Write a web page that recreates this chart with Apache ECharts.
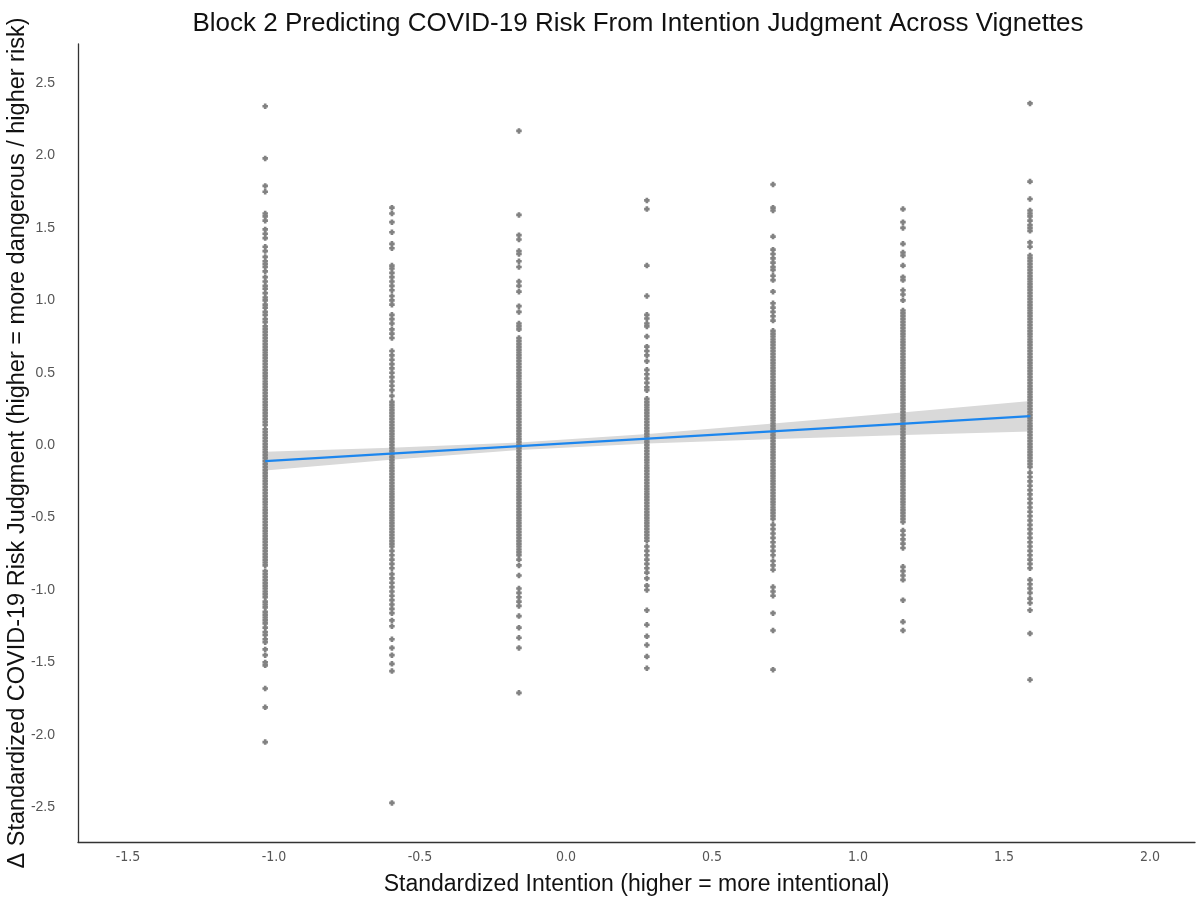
<!DOCTYPE html>
<html>
<head>
<meta charset="utf-8">
<script src="https://cdn.jsdelivr.net/npm/echarts@6/dist/echarts.min.js"></script>
<style>
html,body{margin:0;padding:0;background:#fff;}
#chart{width:1196px;height:897px;}
</style>
</head>
<body>
<div id="chart"></div>
<script>
// Vignette positions on standardized intention axis
var columnX = [-1.03, -0.596, -0.161, 0.277, 0.709, 1.154, 1.589];

// Δ standardized COVID-19 risk values per column
var col1 = [2.34,1.98,1.79,1.75,1.60,1.58,1.55,1.49,1.46,1.43,1.37,1.34,1.30,1.27,1.25,1.23,1.20,1.16,1.13,1.10,1.08,1.05,1.02,1.00,0.97,0.95,0.92,0.90,0.87,0.85,0.82,
0.80,0.78,0.76,0.74,0.72,0.70,0.68,0.66,0.64,0.62,0.60,0.58,0.56,0.54,0.52,0.50,0.48,0.46,0.44,0.42,0.40,0.38,0.36,0.34,0.32,0.30,0.28,0.26,0.24,0.22,0.20,0.18,0.16,0.14,0.11,0.09,0.07,0.05,0.03,0.01,
-0.01,-0.03,-0.05,-0.07,-0.09,-0.11,-0.13,-0.15,-0.17,-0.19,-0.21,-0.23,-0.25,-0.27,-0.29,-0.31,-0.33,-0.35,-0.37,-0.39,-0.41,-0.43,-0.45,-0.47,-0.49,-0.51,-0.53,-0.55,-0.57,-0.59,-0.61,-0.63,-0.65,-0.67,-0.69,-0.71,-0.73,-0.75,-0.77,-0.79,-0.81,-0.83,
-0.87,-0.89,-0.91,-0.93,-0.95,-0.97,-0.99,-1.01,-1.03,-1.05,-1.08,-1.10,-1.12,-1.15,-1.17,-1.19,-1.21,-1.23,-1.26,-1.29,-1.31,-1.34,-1.36,-1.41,-1.45,-1.50,-1.52,-1.68,-1.81,-2.05];

var col2 = [1.64,1.60,1.54,1.47,1.39,1.36,1.24,1.22,1.19,1.16,1.13,1.10,1.07,1.03,1.00,0.97,0.90,0.87,0.84,0.80,0.77,0.74,0.65,0.62,0.59,0.56,0.53,0.50,0.47,0.44,0.41,0.38,0.34,
0.30,0.28,0.26,0.24,0.22,0.20,0.18,0.16,0.14,0.12,0.10,0.08,0.06,0.04,0.02,0.00,-0.02,-0.04,-0.06,-0.08,-0.10,-0.12,-0.14,-0.16,-0.18,-0.20,-0.22,-0.24,-0.26,-0.28,-0.30,-0.32,-0.34,-0.36,-0.38,-0.40,-0.42,-0.44,-0.46,-0.48,-0.50,-0.52,-0.54,-0.56,-0.58,-0.60,-0.62,-0.64,-0.66,-0.68,-0.70,
-0.73,-0.76,-0.79,-0.82,-0.85,-0.89,-0.92,-0.95,-0.98,-1.01,-1.04,-1.07,-1.10,-1.13,-1.16,-1.21,-1.25,-1.34,-1.40,-1.45,-1.51,-1.56,-2.47];

var col3 = [2.17,1.59,1.45,1.42,1.34,1.32,1.27,1.23,1.13,1.10,1.06,0.96,0.92,0.84,0.82,0.80,
0.74,0.72,0.70,0.68,0.66,0.64,0.62,0.60,0.58,0.56,0.54,0.52,0.50,0.48,0.46,0.44,0.42,0.40,0.38,0.36,0.34,0.32,0.30,0.28,0.26,0.24,0.22,0.20,0.18,0.16,0.14,0.12,0.10,0.08,0.06,0.04,0.02,0.00,
-0.02,-0.04,-0.06,-0.08,-0.10,-0.12,-0.14,-0.16,-0.18,-0.20,-0.22,-0.24,-0.26,-0.28,-0.30,-0.32,-0.34,-0.36,-0.38,-0.40,-0.42,-0.44,-0.46,-0.48,-0.50,-0.52,-0.54,-0.56,-0.58,-0.60,-0.62,-0.64,-0.66,-0.68,-0.70,-0.72,-0.74,-0.76,
-0.79,-0.83,-0.90,-0.99,-1.02,-1.05,-1.08,-1.11,-1.18,-1.26,-1.33,-1.40,-1.71];

var col4 = [1.69,1.63,1.24,1.03,0.90,0.875,0.84,0.82,0.75,0.68,0.65,0.62,0.58,0.52,0.49,0.46,0.43,0.40,0.38,
0.32,0.30,0.28,0.26,0.24,0.22,0.20,0.18,0.16,0.14,0.12,0.10,0.08,0.06,0.04,0.02,0.00,-0.02,-0.04,-0.06,-0.08,-0.10,-0.12,-0.14,-0.16,-0.18,-0.20,-0.22,-0.24,-0.26,-0.28,-0.30,-0.32,-0.34,-0.36,-0.38,-0.40,-0.42,-0.44,-0.46,-0.48,-0.50,-0.52,-0.54,-0.56,-0.58,-0.60,-0.62,-0.64,-0.66,
-0.70,-0.73,-0.76,-0.79,-0.82,-0.85,-0.88,-0.92,-0.97,-1.00,-1.14,-1.24,-1.32,-1.38,-1.46,-1.54];

var col5 = [1.80,1.64,1.62,1.44,1.35,1.32,1.29,1.26,1.23,1.21,1.17,1.14,1.06,0.98,0.95,0.92,0.89,0.86,
0.79,0.77,0.75,0.73,0.71,0.69,0.67,0.65,0.63,0.61,0.59,0.57,0.55,0.53,0.51,0.49,0.47,0.45,0.43,0.41,0.39,0.37,0.35,0.33,0.31,0.29,0.27,0.25,0.23,0.21,0.19,0.17,0.15,0.13,0.11,0.09,0.07,0.05,0.03,0.01,
-0.01,-0.03,-0.05,-0.07,-0.09,-0.11,-0.13,-0.15,-0.17,-0.19,-0.21,-0.23,-0.25,-0.27,-0.29,-0.31,-0.33,-0.35,-0.37,-0.39,-0.41,-0.43,-0.45,-0.47,-0.49,-0.51,
-0.55,-0.58,-0.61,-0.64,-0.67,-0.70,-0.73,-0.76,-0.80,-0.83,-0.86,-0.98,-1.01,-1.04,-1.16,-1.28,-1.55];

var col6 = [1.63,1.54,1.50,1.39,1.33,1.31,1.24,1.16,1.14,1.07,1.04,1.00,
0.93,0.91,0.89,0.87,0.85,0.83,0.81,0.79,0.77,0.75,0.73,0.71,0.69,0.67,0.65,0.63,0.61,0.59,0.57,0.55,0.53,0.51,0.49,0.47,0.45,0.43,0.41,0.39,0.37,0.35,0.33,0.31,0.29,0.27,0.25,0.23,0.21,0.19,0.17,0.15,0.13,0.11,0.09,0.07,0.05,0.03,0.01,
-0.01,-0.03,-0.05,-0.07,-0.09,-0.11,-0.13,-0.15,-0.17,-0.19,-0.21,-0.23,-0.25,-0.27,-0.29,-0.31,-0.33,-0.35,-0.37,-0.39,-0.41,-0.43,-0.45,-0.47,-0.49,-0.51,-0.53,
-0.59,-0.62,-0.65,-0.68,-0.71,-0.84,-0.87,-0.90,-0.93,-1.07,-1.22,-1.28];

var col7 = [2.36,1.82,1.70,1.62,1.60,1.58,1.55,1.52,1.50,1.48,1.40,1.37,
1.31,1.29,1.27,1.25,1.23,1.21,1.19,1.17,1.15,1.13,1.11,1.09,1.07,1.05,1.03,1.01,0.99,0.97,0.95,0.93,0.91,0.89,0.87,0.85,0.83,0.81,0.79,0.77,0.75,0.73,0.71,0.69,0.67,0.65,0.63,0.61,0.59,0.57,0.55,0.53,0.51,0.49,0.47,0.45,0.43,0.41,0.39,0.37,0.35,0.33,0.31,0.29,0.27,0.25,0.23,0.21,0.19,0.17,0.15,0.13,0.11,0.09,0.07,0.05,0.03,0.01,
-0.01,-0.03,-0.05,-0.07,-0.09,-0.11,-0.13,-0.15,-0.19,-0.22,-0.25,-0.28,-0.31,-0.34,-0.37,-0.40,-0.43,-0.46,-0.49,-0.52,-0.55,-0.58,-0.61,-0.64,-0.67,-0.70,-0.73,-0.76,-0.79,-0.82,-0.85,
-0.93,-0.96,-0.99,-1.02,-1.06,-1.09,-1.14,-1.30,-1.62];

var columns = [col1, col2, col3, col4, col5, col6, col7];

// Linear fit and 95% confidence band
var fitX     = [-1.03, -0.60, -0.16, 0.28, 0.72, 1.16, 1.59];
var fitY     = [-0.110, -0.059, -0.007, 0.045, 0.097, 0.149, 0.200];
var bandLow  = [-0.175, -0.100, -0.033, 0.012, 0.043, 0.070, 0.095];
var bandHigh = [-0.045, -0.017, 0.019, 0.078, 0.151, 0.228, 0.305];

var xTicks = [-1.5, -1.0, -0.5, 0.0, 0.5, 1.0, 1.5, 2.0];
var yTicks = [-2.5, -2.0, -1.5, -1.0, -0.5, 0.0, 0.5, 1.0, 1.5, 2.0, 2.5];

var titleText = 'Block 2 Predicting COVID-19 Risk From Intention Judgment Across Vignettes';
var xName = 'Standardized Intention (higher = more intentional)';
var yName = '\u0394 Standardized COVID-19 Risk Judgment (higher = more dangerous / higher risk)';

var scatterData = [];
columns.forEach(function (vals, i) {
  vals.forEach(function (v) { scatterData.push([columnX[i], v]); });
});
var bandData = fitX.map(function (x, i) { return [x, bandLow[i], bandHigh[i]]; });
var lineData = fitX.map(function (x, i) { return [x, fitY[i]]; });

var chart = echarts.init(document.getElementById('chart'), null, {renderer: 'canvas'});
var font = "'Liberation Sans', Arial, sans-serif";
chart.setOption({
  animation: false,
  backgroundColor: '#ffffff',
  title: {
    text: titleText,
    left: 633, top: 6, textAlign: 'center',
    textStyle: {fontFamily: font, fontSize: 26, fontWeight: 'normal', color: '#111'}
  },
  grid: {left: 78, right: 1, top: 44, bottom: 55, containLabel: false, outerBoundsMode: 'none'},
  xAxis: {
    type: 'value', min: -1.671, max: 2.154,
    name: xName, nameLocation: 'middle', nameGap: 31, nameMoveOverlap: false,
    nameTextStyle: {fontFamily: font, fontSize: 23, color: '#111'},
    axisLine: {show: true, onZero: false, lineStyle: {color: '#333', width: 1.3}},
    axisTick: {show: false},
    splitLine: {show: false},
    axisLabel: {
      customValues: xTicks, margin: 8,
      fontFamily: "'DejaVu Sans Condensed', 'Liberation Sans', sans-serif", fontSize: 14, color: '#555',
      formatter: function (v) { return v.toFixed(1); }
    }
  },
  yAxis: {
    type: 'value', min: -2.74, max: 2.77,
    name: yName, nameLocation: 'middle', nameGap: 48, nameRotate: 90, nameMoveOverlap: false,
    nameTextStyle: {fontFamily: font, fontSize: 23.5, color: '#111'},
    axisLine: {show: true, onZero: false, lineStyle: {color: '#333', width: 1.3}},
    axisTick: {show: false},
    splitLine: {show: false},
    axisLabel: {
      customValues: yTicks, margin: 23,
      fontFamily: font, fontSize: 14, color: '#555',
      formatter: function (v) { return v.toFixed(1); }
    }
  },
  series: [
    {
      type: 'custom', z: 1, silent: true,
      data: bandData,
      encode: {x: 0, y: [1, 2]},
      renderItem: function (params, api) {
        if (params.dataIndex !== 0) return null;
        var upper = [], lower = [];
        for (var i = 0; i < bandData.length; i++) {
          upper.push(api.coord([bandData[i][0], bandData[i][2]]));
          lower.unshift(api.coord([bandData[i][0], bandData[i][1]]));
        }
        return {type: 'polygon', shape: {points: upper.concat(lower)}, style: {fill: '#d9d9d9'}};
      }
    },
    {
      type: 'scatter', z: 2, silent: true,
      data: scatterData,
      symbol: 'path://M1.3,0H3.7V1.3H5V3.7H3.7V5H1.3V3.7H0V1.3H1.3Z',
      symbolSize: 5.5,
      itemStyle: {color: '#828282', opacity: 1}
    },
    {
      type: 'line', z: 3, silent: true,
      data: lineData, showSymbol: false, symbol: 'none',
      lineStyle: {color: '#1C86EE', width: 2.2}
    }
  ]
});
</script>
</body>
</html>
